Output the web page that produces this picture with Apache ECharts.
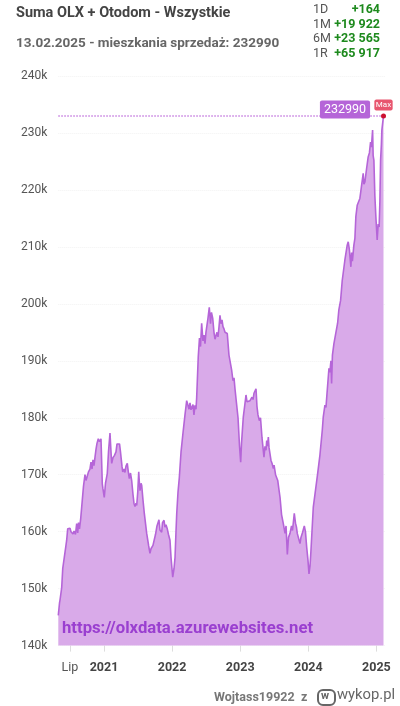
<![CDATA[<!DOCTYPE html>
<html><head><meta charset="utf-8">
<style>html,body{margin:0;padding:0;background:#fff}#c{width:400px;height:706px}</style>
<script src="https://cdn.jsdelivr.net/npm/echarts@6/dist/echarts.min.js"></script>
</head><body><div id="c"></div>
<script>
const years=[2020.329,2020.347,2020.354,2020.379,2020.394,2020.417,2020.438,2020.452,2020.467,2020.486,2020.501,2020.515,2020.530,2020.545,2020.560,2020.581,2020.599,2020.614,2020.626,2020.640,2020.658,2020.670,2020.681,2020.699,2020.721,2020.736,2020.755,2020.772,2020.794,2020.809,2020.824,2020.838,2020.853,2020.868,2020.883,2020.897,2020.916,2020.934,2020.956,2020.975,2020.985,
2021.004,2021.022,2021.048,2021.066,2021.088,2021.103,2021.113,2021.132,2021.154,2021.176,2021.191,2021.210,2021.228,2021.242,2021.264,2021.275,2021.294,2021.308,2021.323,2021.342,2021.357,2021.372,2021.389,2021.407,2021.426,2021.440,2021.455,2021.470,2021.480,2021.496,2021.510,2021.520,2021.529,2021.544,2021.554,2021.573,2021.592,2021.609,2021.627,2021.639,2021.656,2021.675,2021.690,2021.705,2021.719,2021.739,2021.756,2021.778,2021.807,2021.822,2021.847,2021.859,2021.881,2021.895,2021.910,2021.929,2021.947,2021.969,2021.984,
2022.009,2022.028,2022.043,2022.057,2022.068,2022.087,2022.106,2022.131,2022.164,2022.189,2022.214,2022.233,2022.248,2022.263,2022.277,2022.288,2022.307,2022.321,2022.336,2022.351,2022.361,2022.384,2022.402,2022.417,2022.434,2022.453,2022.468,2022.483,2022.497,2022.512,2022.527,2022.546,2022.564,2022.578,2022.596,2022.615,2022.630,2022.645,2022.659,2022.674,2022.689,2022.703,2022.718,2022.733,2022.747,2022.762,2022.777,2022.791,2022.810,2022.835,2022.875,2022.894,2022.909,2022.924,2022.949,2022.968,2022.990,
2023.007,2023.019,2023.045,2023.070,2023.085,2023.100,2023.119,2023.144,2023.158,2023.173,2023.188,2023.202,2023.217,2023.232,2023.246,2023.261,2023.281,2023.298,2023.320,2023.349,2023.364,2023.379,2023.389,2023.401,2023.413,2023.423,2023.452,2023.467,2023.487,2023.497,2023.519,2023.551,2023.570,2023.585,2023.607,2023.633,2023.658,2023.673,2023.692,2023.709,2023.731,2023.753,2023.768,2023.794,2023.812,2023.826,2023.838,2023.856,2023.878,2023.892,2023.914,2023.941,2023.958,2023.976,2023.995,
2024.010,2024.025,2024.039,2024.073,2024.098,2024.137,2024.171,2024.205,2024.219,2024.230,2024.244,2024.259,2024.278,2024.303,2024.317,2024.332,2024.342,2024.354,2024.376,2024.430,2024.449,2024.474,2024.498,2024.537,2024.571,2024.586,2024.603,2024.625,2024.636,2024.647,2024.669,2024.684,2024.698,2024.718,2024.735,2024.757,2024.779,2024.806,2024.816,2024.831,2024.853,2024.879,2024.897,2024.914,2024.926,2024.944,2024.952,2024.963,2024.977,2024.992,
2025.011,2025.026,2025.040,2025.051,2025.061,2025.073,2025.080,2025.104];
const listings=[145.3,147.5,148,150.2,153.5,155.5,157.3,158.5,160.5,160.2,160.6,160,160.3,159.6,160.1,159.5,161.4,159.8,161.6,160.5,162.3,162.5,165.5,168,170,169,168.7,170.5,171,172.2,171,172.6,171.6,173.1,174.5,175.5,176.3,175.8,176.3,168.4,167.5,
166,168.5,170.2,174,177.3,174,172,173,173.4,174,175.4,175.6,175.4,174,171.5,170.5,171,170.4,171.5,172,170.5,169.3,170.3,168.9,166.5,165,164.4,165,164.6,167,170.5,168.5,167.2,168.5,168.1,165.5,163.2,161.5,159.7,160,157.5,156.2,157,156.8,157.6,157.9,159.5,161,162.1,160.3,159.9,161.6,162,160.8,161.2,160.5,159.5,158.5,155.5,
152,153.5,155.5,160,163.2,167,169.5,174,177.8,180.5,183,182.2,181.5,182.6,181.4,181.3,182.3,180.5,182.2,181.5,183.6,190.7,194,192.5,196.6,193.5,194.5,193,195,194.8,197.5,199.4,196.5,198.5,197.5,195,193.8,193.6,195,194.2,196,198,196.5,197.2,196,195.6,195,195.2,194.8,191,188.3,186.5,187,185,184.8,180,175,
172.2,175.5,180.1,182.5,184,182.8,182.5,183,182.8,183.6,183.2,184.3,184,185.1,182,180.5,179.5,180,176.5,173.1,175,174.3,176,175,176.6,174.8,172.5,172,171.1,171.7,170,169,167.3,166,163,161.4,159.7,161,156,159,159.7,161,160.2,163.2,161.5,160.8,159.7,160,157.9,159,159.8,161,160,157.3,155,
152.6,154,156.7,164.3,166.6,170.2,173.5,177.8,180.1,179.8,182.2,181.8,184.8,188.7,188,190,186,191,193,196.6,199,200.6,204.1,207.7,210.3,210.9,209.5,206.5,209,207.5,210.3,211.5,215.3,217.3,217,218.5,220.5,222.9,221,221.4,223.5,225.8,226.5,228.4,227.5,230.5,226,225.2,219,215.3,
211.2,214,213.5,218,225.2,228,230.5,232.99];
const tickYears=[2020.5,2021,2022,2023,2024,2025];
const tickLabels=['Lip','2021','2022','2023','2024','2025'];
const statKeys=['1D','1M','6M','1R'];
const statValues=['+164','+19 922','+23 565','+65 917'];

const points=years.map((y,i)=>[y,listings[i]]);
const F='Roboto, sans-serif';
const statGraphics=[];
[8,23,37,52].forEach((y,i)=>{
  statGraphics.push({type:'text',left:313,top:y-5,style:{text:statKeys[i],font:'12.5px '+F,fill:'#555'}});
  statGraphics.push({type:'text',right:20,top:y-5,style:{text:statValues[i],font:'bold 12.5px '+F,fill:'#1e8a1e',textAlign:'right'}});
});
const chart=echarts.init(document.getElementById('c'),null,{renderer:'canvas'});
chart.setOption({
  animation:false,
  backgroundColor:'#fff',
  grid:{left:58.3,right:15,top:76,bottom:60.4},
  xAxis:{type:'value',min:2020.329,max:2025.126,splitLine:{show:false},axisLine:{show:false},
    axisTick:{show:true,customValues:tickYears,length:6,lineStyle:{color:'#ddd'}},
    axisLabel:{show:true,customValues:tickYears,margin:16,showMinLabel:true,showMaxLabel:true,hideOverlap:false,
      formatter:v=>{const i=tickYears.indexOf(v);return i===0?'{m|'+tickLabels[i]+'}':'{y|'+tickLabels[i]+'}';},
      rich:{m:{fontFamily:F,fontSize:12.5,color:'#555'},y:{fontFamily:F,fontSize:12.5,fontWeight:'bold',color:'#444'}}}},
  yAxis:{type:'value',min:140,max:240,interval:10,axisLine:{show:false},axisTick:{show:false},
    splitLine:{show:true,lineStyle:{color:'#f2f2f2',type:'dotted',width:1}},
    axisLabel:{fontFamily:F,fontSize:12,color:'#555',margin:11,formatter:v=>v+'k'}},
  series:[{type:'line',data:points,showSymbol:false,symbol:'none',smooth:false,
    lineStyle:{color:'#b565d8',width:1.6},areaStyle:{color:'#d9aae9',opacity:1},
    markLine:{silent:true,symbol:'none',animation:false,label:{show:false},
      lineStyle:{color:'#c67fe0',type:'dotted',width:1.5},
      data:[[{x:58.3,type:'max',valueDim:'y'},{type:'max',valueDim:'y'}]]},
    markPoint:{silent:true,animation:false,data:[
      {type:'max',valueDim:'y',symbol:'circle',symbolSize:0,
       label:{show:true,position:'inside',offset:[-38.5,-6.5],formatter:p=>String(Math.round(p.value*1000)),
         backgroundColor:'#b565d8',color:'#fff',fontFamily:F,fontSize:12.5,padding:[3,4,2,4],borderRadius:2}},
      {type:'max',valueDim:'y',symbol:'circle',symbolSize:5,itemStyle:{color:'#cc1030'},
       label:{show:true,position:'inside',offset:[0,-11],formatter:'Max',
         backgroundColor:'#e8566f',color:'#fff',fontFamily:F,fontSize:8,padding:[2,1.5,1,1.5],borderRadius:2}}
    ]}
  }],
  graphic:[
    {type:'text',left:16,top:6,style:{text:'Suma OLX + Otodom - Wszystkie',font:'bold 14.5px '+F,fill:'#444'}},
    {type:'text',left:16,top:37,style:{text:'13.02.2025 - mieszkania sprzedaż: 232990',font:'bold 13.5px '+F,fill:'#666'}},
    ...statGraphics,
    {type:'text',left:62,top:620,z:10,style:{text:'https://olxdata.azurewebsites.net',font:'bold 16.7px '+F,fill:'#9a3fd0'}},
    {type:'text',left:214,top:691,style:{text:'Wojtass19922',font:'bold 12.5px '+F,fill:'#777'}},
    {type:'text',left:301,top:691,style:{text:'z',font:'bold 12.5px '+F,fill:'#777'}},
    {type:'rect',left:317,top:689,shape:{width:17,height:15,r:5},style:{fill:'#fff',stroke:'#666',lineWidth:2}},
    {type:'text',left:321,top:691,style:{text:'w',font:'bold 11px '+F,fill:'#666'}},
    {type:'text',left:337,top:688,style:{text:'wykop.pl',font:'14.8px '+F,fill:'#666'}}
  ]
});
</script></body></html>]]>
